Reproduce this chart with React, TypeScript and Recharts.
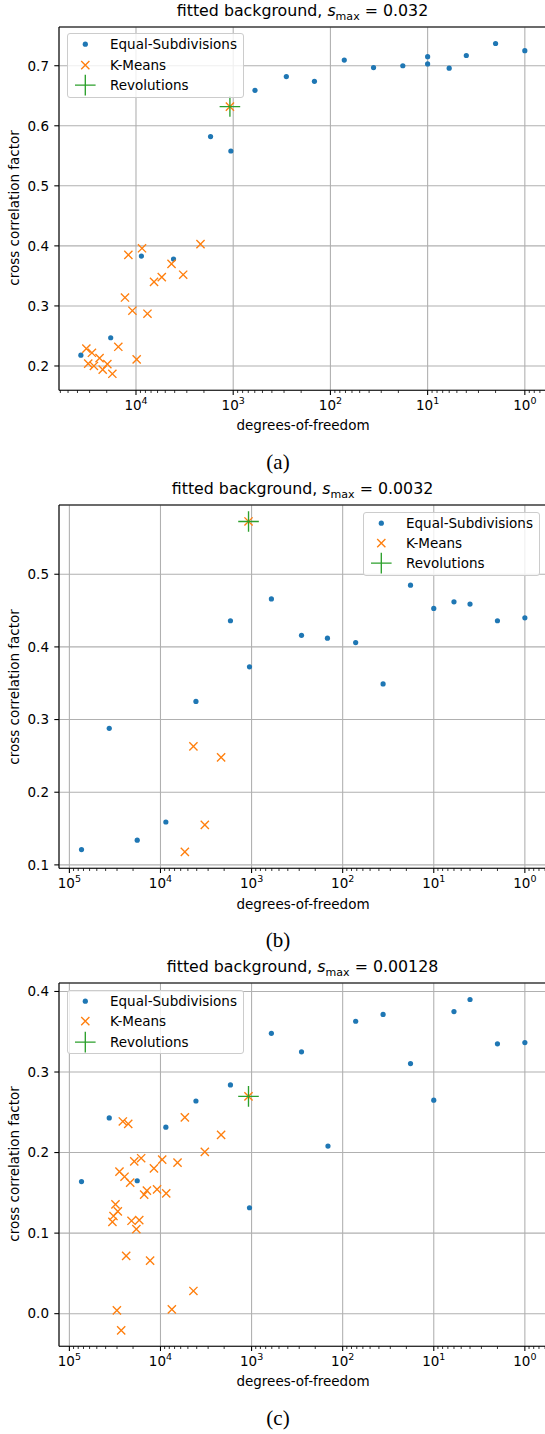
import { ScatterChart, Scatter, XAxis, YAxis, CartesianGrid, ReferenceLine } from 'recharts'

const FONT = '"DejaVu Sans", sans-serif'
const BLUE = '#1f77b4'
const ORANGE = '#ff7f0e'
const GREEN = '#2ca02c'
const GRID = '#b0b0b0'

// panel (a), s_max = 0.032
const A_EQ_DOF = [36900, 18200, 8800, 4110, 1710, 1057, 597, 284, 146, 72, 36, 18, 10, 10, 6, 4, 2, 1]
const A_EQ_CCF = [0.218, 0.247, 0.383, 0.378, 0.582, 0.558, 0.659, 0.682, 0.674, 0.7095, 0.697, 0.7, 0.715, 0.703, 0.696, 0.717, 0.737, 0.725]
const A_KM_DOF = [2170, 8670, 11980, 4310, 3270, 5430, 6520, 12980, 10890, 7620, 15200, 32400, 28400, 23700, 9840, 31000, 27100, 19700, 22000, 17500, 1081]
const A_KM_CCF = [0.403, 0.396, 0.385, 0.37, 0.352, 0.348, 0.34, 0.314, 0.292, 0.287, 0.232, 0.229, 0.222, 0.213, 0.211, 0.204, 0.2, 0.203, 0.194, 0.187, 0.632]
const A_REV_DOF = [1081]
const A_REV_CCF = [0.632]

// panel (b), s_max = 0.0032
const B_EQ_DOF = [73600, 36500, 18000, 8730, 4080, 1706, 1054, 606, 283, 147, 72, 36, 18, 10, 6, 4, 2, 1]
const B_EQ_CCF = [0.121, 0.288, 0.134, 0.159, 0.325, 0.436, 0.3726, 0.466, 0.416, 0.412, 0.406, 0.349, 0.485, 0.453, 0.462, 0.459, 0.436, 0.44]
const B_KM_DOF = [4350, 2160, 3260, 5400, 1080]
const B_KM_CCF = [0.263, 0.248, 0.155, 0.118, 0.5726]
const B_REV_DOF = [1080]
const B_REV_CCF = [0.5726]

// panel (c), s_max = 0.00128
const C_EQ_DOF = [73600, 36500, 18000, 8730, 4080, 1706, 1054, 606, 283, 145, 72, 36, 18, 10, 6, 4, 2, 1]
const C_EQ_CCF = [0.164, 0.243, 0.165, 0.2315, 0.264, 0.284, 0.1315, 0.348, 0.325, 0.208, 0.363, 0.3715, 0.3105, 0.265, 0.375, 0.39, 0.335, 0.3366]
const C_KM_DOF = [25900, 22600, 5400, 2160, 3260, 19400, 16300, 9580, 11800, 6500, 28200, 24800, 21500, 14100, 15100, 10900, 8650, 31200, 29400, 32800, 33700, 20800, 17100, 18400, 23800, 13000, 4350, 30100, 7500, 27000, 1081]
const C_KM_CCF = [0.2386, 0.2357, 0.2436, 0.222, 0.2009, 0.189, 0.193, 0.1913, 0.1804, 0.1875, 0.1763, 0.17, 0.1626, 0.1527, 0.1477, 0.1543, 0.1493, 0.1356, 0.127, 0.1212, 0.114, 0.1153, 0.1162, 0.105, 0.0717, 0.0659, 0.0282, 0.004, 0.0053, -0.0208, 0.2697]
const C_REV_DOF = [1081]
const C_REV_CCF = [0.2697]

const A_Y_TICKS = [0.2, 0.3, 0.4, 0.5, 0.6, 0.7]
const B_Y_TICKS = [0.1, 0.2, 0.3, 0.4, 0.5]
const C_Y_TICKS = [0.0, 0.1, 0.2, 0.3, 0.4]
const A_MAJOR = [10000, 1000, 100, 10, 1]
const BC_MAJOR = [100000, 10000, 1000, 100, 10, 1]

const SERIES_LABELS = ['Equal-Subdivisions', 'K-Means', 'Revolutions']

const PLOT_H = 363.3
const TOP_PAD = 4
const XAXIS_H = 30
const CHART_W = 548

const zip = (xs: number[], ys: number[]) => xs.map((x, i) => ({ x, y: ys[i] }))

function logTicks(lo: number, hi: number) {
  const out: number[] = []
  for (let e = Math.floor(Math.log10(lo)); e <= Math.ceil(Math.log10(hi)); e++) {
    for (let m = 1; m < 10; m++) {
      const v = m * Math.pow(10, e)
      if (v >= lo && v <= hi) out.push(v)
    }
  }
  return out
}

const Dot = (p: any) => <circle cx={p.cx} cy={p.cy} r={2.6} fill={BLUE} />
const Cross = (p: any) => {
  const s = 4.1
  return (
    <path
      d={`M${p.cx - s},${p.cy - s}L${p.cx + s},${p.cy + s}M${p.cx - s},${p.cy + s}L${p.cx + s},${p.cy - s}`}
      stroke={ORANGE}
      strokeWidth={1.35}
      fill="none"
    />
  )
}
const Plus = (p: any) => {
  const s = 10.3
  return (
    <path
      d={`M${p.cx - s},${p.cy}L${p.cx + s},${p.cy}M${p.cx},${p.cy - s}L${p.cx},${p.cy + s}`}
      stroke={GREEN}
      strokeWidth={1.35}
      fill="none"
    />
  )
}

function XTick(props: any) {
  const { x, y, payload } = props
  const lg = Math.log10(payload.value)
  const e = Math.round(lg)
  const major = Math.abs(lg - e) < 1e-9
  return (
    <g>
      <line
        x1={x}
        x2={x}
        y1={y}
        y2={y + (major ? 4.7 : 2.7)}
        stroke="#000"
        strokeWidth={major ? 1.08 : 0.8}
      />
      {major && (
        <text x={x} y={y + 20} textAnchor="middle" fontSize={13.5} fontFamily={FONT} fill="#000">
          10
          <tspan dy={-6.5} fontSize={9.5}>
            {e}
          </tspan>
        </text>
      )}
    </g>
  )
}

function Legend({ left, top }: { left: number; top: number }) {
  const markers = [
    <circle key="d" cx={17.3} cy={10.15} r={2.6} fill={BLUE} />,
    <path key="x" d="M13.2,6.05L21.4,14.25M13.2,14.25L21.4,6.05" stroke={ORANGE} strokeWidth={1.35} fill="none" />,
    <path key="p" d="M7,10.15L27.6,10.15M17.3,-0.15L17.3,20.45" stroke={GREEN} strokeWidth={1.35} fill="none" />,
  ]
  return (
    <div
      style={{
        position: 'absolute',
        left,
        top,
        width: 177,
        height: 64.4,
        boxSizing: 'border-box',
        border: '1px solid #cccccc',
        borderRadius: 3,
        background: 'rgba(255,255,255,0.8)',
        fontFamily: FONT,
        fontSize: 13.5,
      }}
    >
      {SERIES_LABELS.map((label, i) => (
        <div
          key={label}
          style={{ position: 'absolute', left: 0, top: i * 20.3, height: 20.3, display: 'flex', alignItems: 'center' }}
        >
          <svg width={42.3} height={20.3} style={{ overflow: 'visible' }}>
            {markers[i]}
          </svg>
          <span style={{ whiteSpace: 'nowrap' }}>{label}</span>
        </div>
      ))}
    </div>
  )
}

interface PanelProps {
  top: number
  smax: string
  caption: string
  eq: { x: number; y: number }[]
  km: { x: number; y: number }[]
  rev: { x: number; y: number }[]
  xDomain: [number, number]
  yDomain: [number, number]
  yTicks: number[]
  major: number[]
  legend: { left: number; top: number }
}

function Panel({ top, smax, caption, eq, km, rev, xDomain, yDomain, yTicks, major, legend }: PanelProps) {
  const allTicks = logTicks(xDomain[0], xDomain[1])
  return (
    <>
      <div
        style={{
          position: 'absolute',
          left: 0,
          width: 605,
          top: top - 26.1,
          textAlign: 'center',
          fontFamily: FONT,
          fontSize: 15.8,
          lineHeight: '20px',
          whiteSpace: 'nowrap',
        }}
      >
        fitted background, <span style={{ fontStyle: 'italic' }}>s</span>
        <span style={{ fontSize: '70%', position: 'relative', top: 4 }}>max</span> = {smax}
      </div>
      <div style={{ position: 'absolute', left: 0, top: top - TOP_PAD }}>
        <ScatterChart
          width={CHART_W}
          height={TOP_PAD + PLOT_H + XAXIS_H}
          margin={{ top: TOP_PAD, right: 1, bottom: 0, left: 0 }}
        >
          <XAxis
            xAxisId="grid"
            hide
            type="number"
            dataKey="x"
            scale="log"
            domain={xDomain}
            allowDataOverflow
            reversed
            ticks={major}
            interval={0}
          />
          <CartesianGrid xAxisId="grid" stroke={GRID} strokeWidth={1.08} />
          <XAxis
            type="number"
            dataKey="x"
            scale="log"
            domain={xDomain}
            allowDataOverflow
            reversed
            ticks={allTicks}
            interval={0}
            tick={XTick}
            tickLine={false}
            tickSize={0}
            tickMargin={0}
            height={XAXIS_H}
            axisLine={{ stroke: '#000', strokeWidth: 1.08 }}
          />
          <YAxis
            type="number"
            dataKey="y"
            domain={yDomain}
            allowDataOverflow
            ticks={yTicks}
            interval={0}
            width={59}
            tickSize={4.7}
            tickMargin={5.3}
            tickFormatter={(v: number) => v.toFixed(1)}
            tick={{ fill: '#000', fontSize: 13.5, fontFamily: FONT }}
            tickLine={{ stroke: '#000', strokeWidth: 1.08 }}
            axisLine={{ stroke: '#000', strokeWidth: 1.08 }}
          />
          <ReferenceLine y={yDomain[1]} stroke="#000" strokeWidth={1.08} ifOverflow="visible" />
          <Scatter data={eq} shape={Dot} isAnimationActive={false} />
          <Scatter data={km} shape={Cross} isAnimationActive={false} />
          <Scatter data={rev} shape={Plus} isAnimationActive={false} />
        </ScatterChart>
      </div>
      <Legend left={legend.left} top={legend.top} />
      <div
        style={{
          position: 'absolute',
          left: 15,
          top: top + PLOT_H / 2,
          transform: 'translate(-50%, -50%) rotate(-90deg)',
          fontFamily: FONT,
          fontSize: 13.5,
          lineHeight: '13.5px',
          whiteSpace: 'nowrap',
        }}
      >
        cross correlation factor
      </div>
      <div
        style={{
          position: 'absolute',
          left: 0,
          width: 606,
          top: top + PLOT_H + 29.3,
          textAlign: 'center',
          fontFamily: FONT,
          fontSize: 13.5,
          lineHeight: '13.5px',
          whiteSpace: 'nowrap',
        }}
      >
        degrees-of-freedom
      </div>
      <div
        style={{
          position: 'absolute',
          left: 0,
          width: 556,
          top: top + PLOT_H + 72 - 10.5,
          textAlign: 'center',
          fontFamily: '"Liberation Serif", serif',
          fontSize: 21,
          lineHeight: '21px',
        }}
      >
        {caption}
      </div>
    </>
  )
}

export default function App() {
  return (
    <>
      <style>{'html, body { margin: 0; padding: 0; overflow: hidden; background: #fff; }'}</style>
      <div style={{ position: 'relative', width: 545, height: 1434, overflow: 'hidden', background: '#fff' }}>
        <Panel
          top={26.7}
          smax="0.032"
          caption="(a)"
          eq={zip(A_EQ_DOF, A_EQ_CCF)}
          km={zip(A_KM_DOF, A_KM_CCF)}
          rev={zip(A_REV_DOF, A_REV_CCF)}
          xDomain={[0.5916, 61940]}
          yDomain={[0.1595, 0.7645]}
          yTicks={A_Y_TICKS}
          major={A_MAJOR}
          legend={{ left: 66.7, top: 33.3 }}
        />
        <Panel
          top={505}
          smax="0.0032"
          caption="(b)"
          eq={zip(B_EQ_DOF, B_EQ_CCF)}
          km={zip(B_KM_DOF, B_KM_CCF)}
          rev={zip(B_REV_DOF, B_REV_CCF)}
          xDomain={[0.5715, 130000]}
          yDomain={[0.0953, 0.5953]}
          yTicks={B_Y_TICKS}
          major={BC_MAJOR}
          legend={{ left: 362.7, top: 511.7 }}
        />
        <Panel
          top={982.7}
          smax="0.00128"
          caption="(c)"
          eq={zip(C_EQ_DOF, C_EQ_CCF)}
          km={zip(C_KM_DOF, C_KM_CCF)}
          rev={zip(C_REV_DOF, C_REV_CCF)}
          xDomain={[0.5715, 130000]}
          yDomain={[-0.0405, 0.4105]}
          yTicks={C_Y_TICKS}
          major={BC_MAJOR}
          legend={{ left: 66.7, top: 990 }}
        />
      </div>
    </>
  )
}
